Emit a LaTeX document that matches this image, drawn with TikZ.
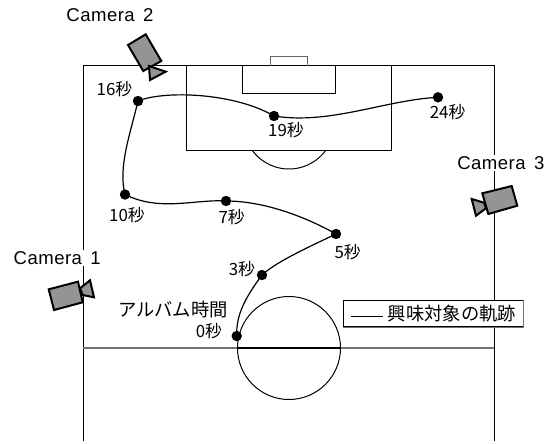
\documentclass[tikz,border=0pt]{standalone}
\usepackage{fontspec}
\newfontfamily\jpfont{Noto Sans CJK JP}
\newfontfamily\camfont[LetterSpace=2.5,WordSpace=1.5]{Liberation Sans}
\usetikzlibrary{calc,positioning}
\tikzset{
	pitchline/.style={line width=0.025cm},
	halfway/.style={line width=0.05cm,color=black!55},
	trackdot/.style={circle,fill=black,inner sep=0pt,minimum size=0.26cm},
	track/.style={line width=0.03cm},
	camshape/.style={line width=0.05cm,fill=black!42,line join=miter},
	timelabel/.style={font=\jpfont\fontsize{12}{14}\selectfont,inner sep=0pt},
	camlabel/.style={font=\camfont\fontsize{13.2}{15}\selectfont,fill=white,inner sep=1pt},
}
\begin{document}
\begin{tikzpicture}
	\useasboundingbox (0.000,0.000) rectangle (13.850,11.075);

	% Drawing pitch outline
	\draw [pitchline] (2.075,0.050) -- (2.075,9.425) -- (12.350,9.425) -- (12.350,0.050);%

	% Drawing penalty box
	\draw [pitchline] (4.650,9.425) -- (4.650,7.325) -- (9.790,7.325) -- (9.790,9.425);%

	% Drawing goal area
	\draw [pitchline] (6.050,9.425) -- (6.050,8.725) -- (8.390,8.725) -- (8.390,9.425);%

	% Drawing goal
	\draw [pitchline,color=black!60] (6.750,9.425) -- (6.750,9.660) -- (7.690,9.660) -- (7.690,9.425);%

	% Drawing penalty arc
	\draw [pitchline] (6.300,7.325) arc (215.6:324.4:1.1375);%

	% Drawing halfway line
	\draw [halfway] (2.075,2.375) -- (12.350,2.375);%
	\draw [line width=0.05cm] (5.938,2.375) -- (8.512,2.375);%

	% Drawing centre circle
	\draw [pitchline] (7.225,2.375) circle (1.2875);%

	% Marking points of the track
	\node [trackdot] (t0) at (5.918,2.675) {};%
	\node [trackdot] (t3) at (6.550,4.200) {};%
	\node [trackdot] (t5) at (8.400,5.225) {};%
	\node [trackdot] (t7) at (5.650,6.050) {};%
	\node [trackdot] (t10) at (3.125,6.212) {};%
	\node [trackdot] (t16) at (3.450,8.550) {};%
	\node [trackdot] (t19) at (6.850,8.175) {};%
	\node [trackdot] (t24) at (10.950,8.642) {};%

	% Drawing track
	\draw [track] (t0.center) .. controls (5.900,3.200) and (6.125,3.625) .. (t3.center);%
	\draw [track] (t3.center) .. controls (6.875,4.500) and (7.500,4.800) .. (t5.center);%
	\draw [track] (t5.center) .. controls (7.875,5.525) and (6.750,6.050) .. (t7.center);%
	\draw [track] (t7.center) .. controls (4.875,6.100) and (4.000,5.775) .. (t10.center);%
	\draw [track] (t10.center) .. controls (2.950,6.900) and (3.250,7.700) .. (t16.center);%
	\draw [track] (t16.center) .. controls (4.125,8.825) and (5.875,8.750) .. (t19.center);%
	\draw [track] (t19.center) .. controls (8.250,7.950) and (9.625,8.575) .. (t24.center);%

	% Marking times
	\node [timelabel] (l0) at (5.225,2.800) {0秒};%
	\node [timelabel] (l3) at (6.050,4.350) {3秒};%
	\node [timelabel] (l5) at (8.692,4.775) {5秒};%
	\node [timelabel] (l7) at (5.792,5.650) {7秒};%
	\node [timelabel] (l10) at (3.175,5.700) {10秒};%
	\node [timelabel] (l16) at (2.862,8.850) {16秒};%
	\node [timelabel] (l19) at (7.150,7.825) {19秒};%
	\node [timelabel] (l24) at (11.192,8.275) {24秒};%
	\node [timelabel,font=\jpfont\fontsize{13}{15}\selectfont] (album) at (4.325,3.325) {アルバム時間};%

	% Drawing camera 1
	\draw [camshape] (1.218,3.842) -- (1.950,4.033) -- (2.068,3.517) -- (1.350,3.325) -- cycle;%
	\draw [camshape] (2.000,3.867) -- (2.250,4.067) -- (2.350,3.642) -- (2.068,3.700) -- cycle;%

	% Drawing camera 2
	\draw [camshape] (3.642,10.217) -- (4.032,9.550) -- (3.582,9.300) -- (3.200,9.950) -- cycle;%
	\draw [camshape] (3.725,9.425) -- (4.142,9.283) -- (3.750,9.075) -- cycle;%

	% Drawing camera 3
	\draw [camshape] (12.058,6.242) -- (12.792,6.425) -- (12.932,5.932) -- (12.208,5.725) -- cycle;%
	\draw [camshape] (11.792,6.100) -- (12.100,6.008) -- (12.150,5.867) -- (11.900,5.683) -- cycle;%

	% Marking cameras
	\node [camlabel] (cam1) at (1.432,4.625) {Camera 1};%
	\node [camlabel] (cam2) at (2.750,10.700) {Camera 2};%
	\node [camlabel] (cam3) at (12.520,7.000) {Camera 3};%

	% Drawing legend
	\node [draw,fill=white,line width=0.025cm,minimum width=4.500cm,minimum height=0.667cm,inner sep=0pt,
		font=\jpfont\fontsize{13}{15}\selectfont] (legend) at (10.833,3.240) {\rule[0.9mm]{0.81cm}{0.025cm}\hspace{0.12cm}興味対象の軌跡};%
	\draw [line width=0.03cm,color=black!55] (legend.north east) -- (legend.south east) -- (legend.south west);%
\end{tikzpicture}
\end{document}
